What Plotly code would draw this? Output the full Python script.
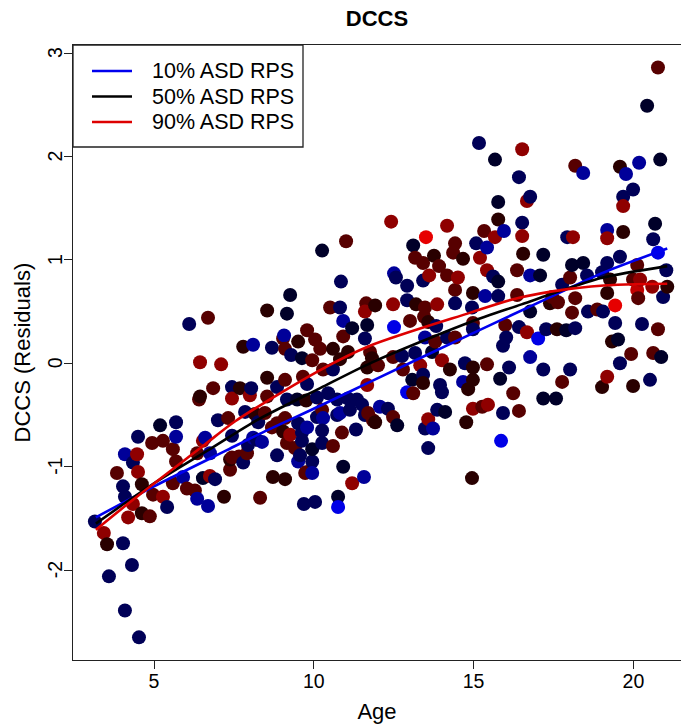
import plotly.graph_objects as go

# ---------------- data ----------------
age = [
    3.15, 3.43, 3.53, 3.59, 3.84, 4.03, 4.03, 4.09, 4.09, 4.09,
    4.19, 4.31, 4.34, 4.34, 4.47, 4.50, 4.50, 4.53, 4.62, 4.62,
    4.87, 4.94, 4.97, 5.19, 5.28, 5.28, 5.41, 5.59, 5.69, 5.69,
    5.69, 5.59, 5.91, 6.03, 6.10, 6.28, 6.35, 6.35, 6.41, 6.44,
    6.44, 6.53, 6.60, 6.53, 6.69, 6.69, 6.75, 6.75, 6.85, 6.91,
    7.00, 7.10, 7.19, 7.32, 7.38, 7.38, 7.44, 7.44, 7.44, 7.44,
    7.66, 7.69, 7.79, 7.79, 7.85, 7.91, 7.94, 8.00, 8.04, 8.10,
    8.10, 8.16, 8.22, 8.26, 8.32, 8.38, 8.47, 8.54, 8.54, 8.54,
    8.69, 8.69, 8.72, 8.85, 8.85, 8.85, 9.04, 9.07, 9.04, 9.10,
    9.10, 9.10, 9.10, 9.16, 9.16, 9.16, 9.26, 9.26, 9.29, 9.41,
    9.48, 9.51, 9.51, 9.51, 9.63, 9.63, 9.57, 9.63, 9.66, 9.69,
    9.76, 9.73, 9.79, 9.79, 9.79, 9.79, 9.95, 9.95, 9.95, 9.95,
    10.04, 10.04, 10.10, 10.10, 10.20, 10.26, 10.26, 10.29, 10.26, 10.26,
    10.29, 10.45, 10.51, 10.60, 10.60, 10.60, 10.73, 10.73, 10.76, 10.76,
    10.82, 10.85, 10.82, 10.82, 10.88, 10.92, 10.92, 10.92, 11.01, 11.07,
    11.07, 11.13, 11.20, 11.20, 11.32, 11.35, 11.51, 11.57, 11.64, 11.60,
    11.60, 11.60, 11.67, 11.67, 11.67, 11.70, 11.76, 11.82, 11.85, 11.92,
    11.92, 12.01, 12.07, 12.32, 12.42, 12.48, 12.48, 12.48, 12.51, 12.51,
    12.57, 12.61, 12.76, 12.79, 12.92, 12.92, 12.92, 13.01, 13.08, 13.11,
    13.11, 13.17, 13.20, 13.17, 13.33, 13.42, 13.42, 13.42, 13.42, 13.45,
    13.48, 13.48, 13.48, 13.51, 13.58, 13.58, 13.58, 13.61, 13.70, 13.73,
    13.76, 13.80, 13.83, 13.86, 13.86, 13.92, 13.95, 14.01, 14.01, 14.11,
    14.17, 14.17, 14.17, 14.26, 14.36, 14.42, 14.42, 14.42, 14.42, 14.51,
    14.67, 14.67, 14.73, 14.77, 14.83, 14.95, 14.95, 14.98, 14.98, 14.98,
    14.98, 14.98, 14.98, 15.08, 15.20, 15.17, 15.27, 15.36, 15.33, 15.42,
    15.42, 15.42, 15.45, 15.61, 15.67, 15.67, 15.77, 15.77, 15.77, 15.77,
    15.83, 15.86, 15.95, 15.92, 15.92, 15.99, 16.02, 16.11, 16.24, 16.36,
    16.36, 16.42, 16.42, 16.42, 16.52, 16.52, 16.52, 16.55, 16.67, 16.67,
    16.77, 16.77, 16.77, 16.77, 17.02, 17.08, 17.18, 17.18, 17.18, 17.27,
    17.39, 17.46, 17.58, 17.61, 17.64, 17.77, 17.77, 17.90, 17.93, 18.02,
    18.02, 18.08, 18.08, 18.11, 18.18, 18.18, 18.18, 18.43, 18.43, 18.55,
    18.58, 18.87, 19.02, 19.02, 19.05, 19.18, 19.18, 19.18, 19.18, 19.18,
    19.27, 19.33, 19.43, 19.43, 19.52, 19.58, 19.58, 19.58, 19.68, 19.68,
    19.68, 19.77, 19.93, 19.99, 19.99, 19.99, 20.12, 20.12, 20.15, 20.18,
    20.21, 20.27, 20.43, 20.52, 20.59, 20.62, 20.62, 20.68, 20.77, 20.77,
    20.77, 20.84, 20.87, 20.93, 21.03, 21.06,
]

dccs_resid = [
    -1.53, -1.64, -1.75, -2.06, -1.06, -1.19, -1.74, -1.29, -0.88, -2.39,
    -1.49, -1.95, -0.96, -1.36, -0.88, -0.71, -1.05, -2.65, -1.17, -1.45,
    -1.48, -0.77, -1.27, -0.60, -0.75, -1.29, -1.39, -0.83, -0.95, -0.57,
    -0.71, -1.16, -1.10, -1.21, 0.38, -1.23, -0.87, -1.31, -0.35, 0.01,
    -0.32, -0.75, -0.72, -1.11, 0.44, -1.38, -0.87, -1.09, -0.24, -1.12,
    -0.55, -0.01, -1.29, -0.53, -1.03, -0.93, -0.23, -0.34, -0.70, -0.91,
    -0.90, -0.24, -0.96, 0.16, -0.47, -0.87, -0.79, -0.31, -0.24, 0.18,
    -0.72, -0.49, -0.74, -0.57, -1.30, -0.76, -0.48, 0.51, -0.14, -0.32,
    0.15, -0.62, -1.10, -0.23, -0.58, -0.89, 0.24, 0.27, -0.66, 0.14,
    -0.16, -0.53, -1.12, 0.48, -0.35, -0.77, 0.66, -0.69, 0.08, -0.82,
    -0.35, 0.21, -0.58, -0.95, -0.67, -0.75, -0.89, 0.05, -0.13, -1.36,
    -0.36, -1.06, 0.32, -0.62, -1.05, -0.20, 0.03, -0.95, -1.06, -0.83,
    0.23, -1.34, -0.33, -0.52, 0.14, 1.09, -0.45, -0.53, -0.65, -0.77,
    -0.06, -0.29, 0.54, 0.14, -0.06, -0.80, -0.35, -0.50, -1.29, -1.39,
    0.54, 0.79, -0.48, 0.04, -0.67, 0.41, 0.26, -1.00, 1.18, 0.11,
    -0.34, -0.45, 0.34, -1.16, -0.64, -0.35, -0.40, -1.10, 0.58, 0.50,
    0.24, -0.50, 0.37, -0.04, -0.21, -0.48, 0.11, 0.05, -0.55, 0.56,
    -0.57, -0.02, -0.42, -0.44, 1.37, 0.57, 0.06, -0.52, 0.87, 0.35,
    0.83, -0.60, 0.07, -0.06, 0.75, 0.61, -0.28, 0.41, -0.16, 1.14,
    -0.29, 1.02, 0.57, 0.10, -0.02, 0.97, 0.80, -0.11, -0.19, 0.45,
    0.54, 0.25, -0.63, 1.22, 0.40, -0.54, -0.82, 0.85, 0.11, -0.63,
    1.04, 0.21, 0.36, 0.57, -0.45, 0.94, -0.21, 0.03, -0.28, -0.47,
    1.33, 0.85, 0.25, -0.06, 1.07, 1.16, 0.71, 0.58, 0.25, 0.83,
    1.01, -0.18, 0.00, -0.57, -0.25, 0.54, -1.11, 0.68, 0.39, 0.33,
    -0.04, -0.16, -0.44, 1.16, 1.02, 2.13, -0.42, 0.65, 1.28, 1.12,
    0.90, -0.01, -0.40, 0.84, 1.97, 1.22, 1.56, 1.39, 0.79, 0.65,
    -0.15, -0.75, 1.28, 0.17, -0.48, 0.37, 0.25, -0.04, -0.29, 0.90,
    0.66, 1.80, 0.35, -0.46, 2.07, 1.36, 1.23, 1.06, 1.57, 0.30,
    1.61, 0.85, 0.50, 0.06, 0.24, 0.85, 1.05, -0.06, -0.34, 0.33,
    0.58, 0.64, -0.34, 0.33, 0.59, 0.76, -0.18, 0.32, 1.22, 0.83,
    -0.06, 0.95, 0.49, 1.22, 1.91, 0.63, 0.34, 1.84, 0.97, 0.85,
    0.50, 0.52, 0.88, -0.23, 0.50, 1.29, 1.21, 0.97, 0.68, -0.13,
    0.81, 0.21, 0.56, 0.39, 0.23, 1.90, 1.03, 0.00, 1.61, 1.52,
    1.27, 1.83, 0.09, 1.68, 0.81, -0.22, 0.95, 0.71, 0.63, 1.94,
    0.81, 0.38, 2.49, -0.16, 0.74, 1.20, 0.10, 1.35, 2.86, 1.07,
    0.33, 1.97, 0.06, 0.64, 0.90, 0.74,
]

# ASD RPS percentile of each participant (0 = blue, 50 = black, 100 = red)
asd_rps = [
    33, 78, 58, 33, 67, 33, 33, 33, 20, 33,
    78, 33, 33, 78, 78, 33, 78, 33, 58, 58,
    67, 67, 67, 42, 67, 78, 33, 67, 67, 33,
    20, 67, 20, 67, 33, 67, 67, 20, 67, 78,
    58, 78, 20, 42, 67, 20, 20, 78, 67, 33,
    33, 78, 58, 67, 67, 58, 33, 78, 33, 67,
    67, 58, 33, 58, 33, 67, 33, 78, 33, 20,
    20, 58, 33, 33, 67, 20, 67, 58, 58, 67,
    33, 67, 58, 33, 67, 33, 67, 20, 58, 67,
    67, 67, 58, 42, 33, 67, 42, 78, 33, 67,
    42, 58, 33, 20, 33, 33, 33, 42, 67, 33,
    58, 67, 67, 20, 67, 33, 67, 33, 20, 42,
    67, 33, 33, 33, 67, 42, 67, 20, 33, 33,
    67, 33, 67, 58, 33, 67, 33, 33, 42, 5,
    33, 33, 20, 58, 67, 20, 67, 42, 67, 58,
    33, 33, 42, 78, 33, 33, 33, 20, 67, 78,
    33, 33, 42, 58, 78, 67, 67, 58, 67, 58,
    58, 67, 20, 33, 78, 78, 67, 67, 20, 5,
    33, 42, 33, 67, 33, 33, 5, 67, 42, 42,
    67, 67, 58, 33, 78, 67, 33, 33, 58, 67,
    67, 20, 33, 95, 58, 78, 33, 78, 42, 20,
    58, 67, 33, 78, 33, 67, 33, 78, 33, 42,
    78, 67, 33, 58, 67, 67, 67, 33, 67, 78,
    58, 20, 33, 58, 58, 33, 58, 58, 67, 33,
    58, 58, 78, 33, 78, 33, 67, 20, 67, 20,
    78, 67, 78, 33, 42, 78, 42, 58, 42, 33,
    42, 5, 20, 33, 33, 67, 33, 33, 67, 67,
    67, 33, 33, 67, 78, 33, 78, 58, 78, 78,
    33, 20, 42, 20, 5, 42, 42, 33, 42, 33,
    58, 67, 42, 58, 67, 33, 67, 42, 33, 67,
    33, 42, 67, 78, 67, 67, 33, 20, 42, 33,
    33, 67, 33, 58, 33, 20, 78, 33, 58, 78,
    58, 58, 95, 33, 42, 58, 33, 33, 33, 78,
    58, 20, 67, 33, 67, 58, 67, 88, 67, 20,
    78, 33, 42, 33, 78, 33, 67, 42, 67, 5,
    67, 42, 42, 33, 33, 58,
]

assert len(age) == len(dccs_resid) == len(asd_rps)

# fitted curves
fit10_age = [3.18, 5.0, 7.28, 8.32, 10.2, 11.76, 14.9, 17.33, 19.0, 21.06]
fit10_val = [-1.49, -1.19, -0.84, -0.68, -0.41, -0.18, 0.28, 0.63, 0.87, 1.11]
fit50_age = [3.18, 5.0, 6.85, 8.22, 10.2, 11.76, 14.9, 16.5, 18.0, 19.05, 21.06]
fit50_val = [-1.55, -1.16, -0.81, -0.55, -0.24, 0.0, 0.40, 0.57, 0.73, 0.83, 0.94]
fit90_age = [3.18, 4.34, 6.53, 7.54, 10.2, 11.76, 14.9, 16.24, 18.0, 19.5, 21.06]
fit90_val = [-1.61, -1.32, -0.80, -0.56, -0.065, 0.17, 0.49, 0.62, 0.72, 0.76, 0.77]

legend_names = ["10% ASD RPS", "50% ASD RPS", "90% ASD RPS"]
line_colors = ["#0000ee", "#000000", "#dd0000"]
x_ticks = [5, 10, 15, 20]
y_ticks = [-2, -1, 0, 1, 2, 3]

# ---------------- figure ----------------
FONT = "Liberation Sans, Arial, Helvetica, sans-serif"
W, H = 681, 728
L, R, T, B = 73, 0, 45, 68
PW, PH = W - L - R, H - T - B


def px_x(p):
    return (p - L) / PW


def px_y(p):
    return 1 - (p - T) / PH


fig = go.Figure()

fig.add_trace(go.Scatter(
    x=age, y=dccs_resid, mode="markers", showlegend=False, hoverinfo="skip",
    marker=dict(size=14, color=asd_rps, cmin=0, cmax=100,
                colorscale=[[0, "rgb(0,0,255)"], [0.5, "rgb(0,0,0)"], [1, "rgb(255,0,0)"]],
                line=dict(width=0), showscale=False),
))

for xs, ys, nm, col in zip([fit10_age, fit50_age, fit90_age],
                           [fit10_val, fit50_val, fit90_val],
                           legend_names, line_colors):
    fig.add_trace(go.Scatter(x=xs, y=ys, mode="lines", name=nm, showlegend=False,
                             line=dict(color=col, width=2.6, shape="spline", smoothing=0.8)))

# legend drawn in the R style: box, 40px line samples, text
shapes = [dict(type="rect", xref="paper", yref="paper",
               x0=0, x1=px_x(303), y0=px_y(147), y1=1,
               line=dict(color="#222", width=1.3), fillcolor="white", layer="below")]
annotations = []
for i, (nm, col) in enumerate(zip(legend_names, line_colors)):
    yy = px_y(71 + 25.5 * i)
    shapes.append(dict(type="line", xref="paper", yref="paper",
                       x0=px_x(92), x1=px_x(132), y0=yy, y1=yy,
                       line=dict(color=col, width=2.6)))
    annotations.append(dict(text=nm, xref="paper", yref="paper", x=px_x(150), y=yy,
                            xanchor="left", yanchor="middle", showarrow=False,
                            font=dict(size=21.5, family=FONT, color="black")))

# y tick labels, rotated parallel to the axis as in R (las = 0)
for v in y_ticks:
    annotations.append(dict(text=str(v), xref="paper", yref="y", x=px_x(55), y=v,
                            xanchor="center", yanchor="middle", textangle=-90,
                            showarrow=False,
                            font=dict(size=19.5, family=FONT, color="black")))

# y-axis title
annotations.append(dict(text="DCCS (Residuals)", xref="paper", yref="paper",
                        x=px_x(22), y=0.5, xanchor="center", yanchor="middle",
                        textangle=-90, showarrow=False,
                        font=dict(size=22, family=FONT, color="black")))

fig.update_layout(
    width=W, height=H,
    margin=dict(l=L, r=R, t=T, b=B),
    paper_bgcolor="white", plot_bgcolor="white",
    font=dict(family=FONT, size=19.5, color="black"),
    title=dict(text="<b>DCCS</b>", font=dict(size=22, family=FONT),
               x=0.5, xref="paper", xanchor="center",
               y=1 - 18 / H, yref="container", yanchor="middle"),
    xaxis=dict(range=[2.465, 21.49], tickmode="array", tickvals=x_ticks,
               ticks="outside", ticklen=8, tickwidth=1, tickcolor="#222",
               showline=True, linecolor="#222", linewidth=1.3, mirror=True,
               showgrid=False, zeroline=False, ticklabelstandoff=-5,
               tickfont=dict(size=19.5),
               title=dict(text="Age", font=dict(size=22), standoff=13)),
    yaxis=dict(range=[-2.869, 3.078], tickmode="array", tickvals=y_ticks,
               ticks="outside", ticklen=8, tickwidth=1, tickcolor="#222",
               showline=True, linecolor="#222", linewidth=1.3, mirror=False,
               showgrid=False, zeroline=False, showticklabels=False),
    shapes=shapes,
    annotations=annotations,
)

fig.write_html("out.html")
